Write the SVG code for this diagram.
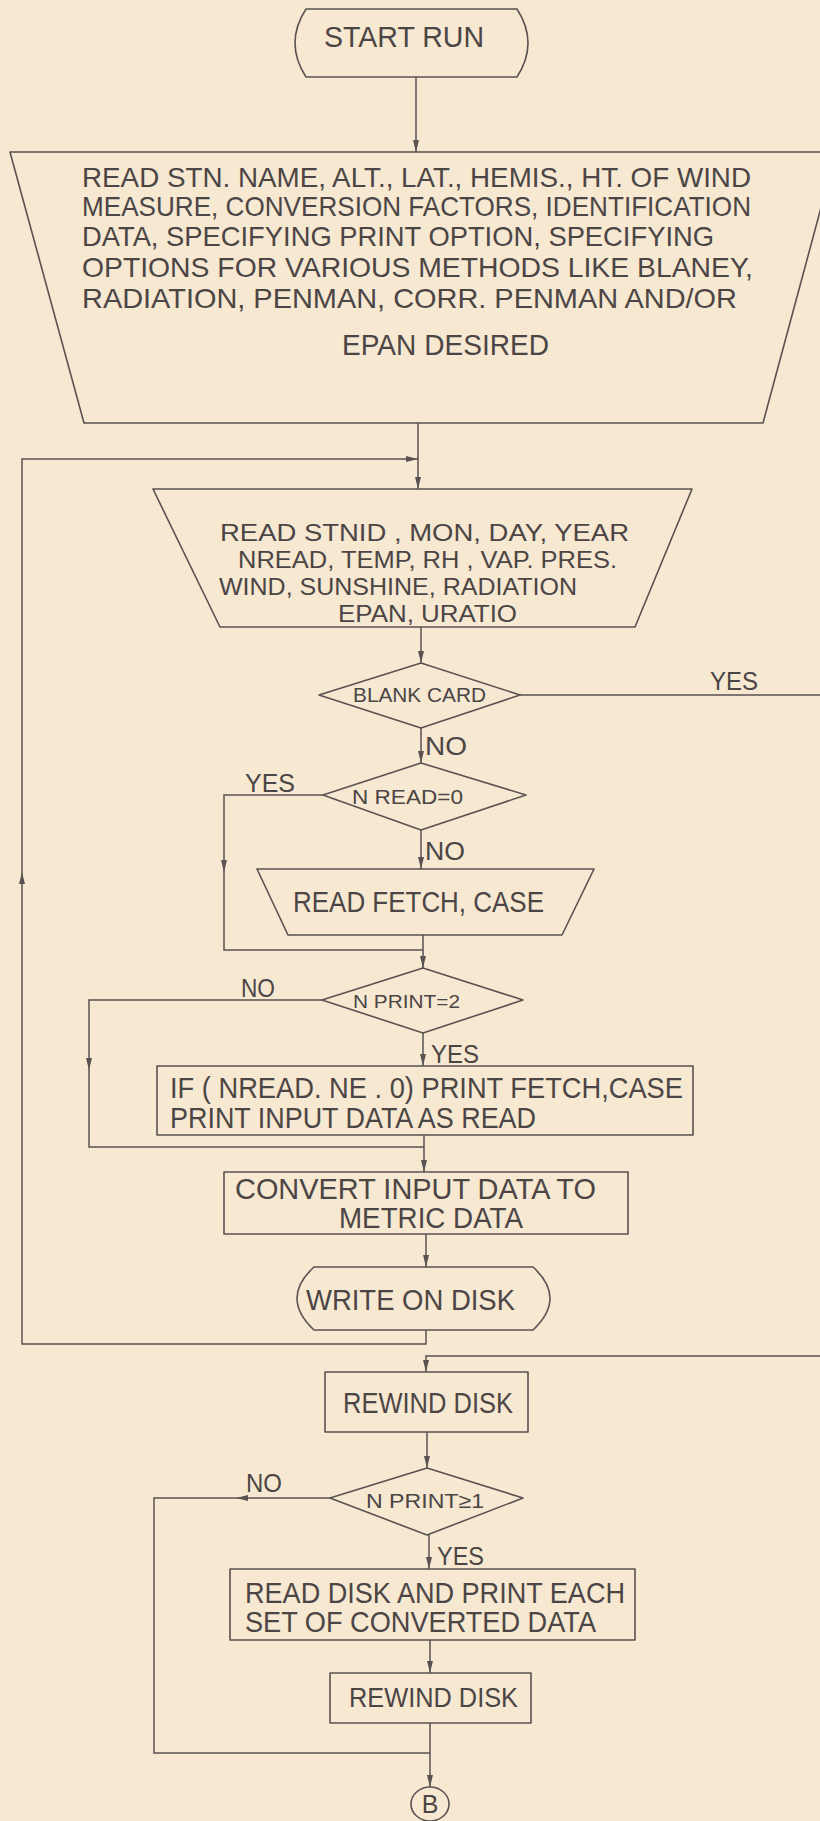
<svg xmlns="http://www.w3.org/2000/svg" width="820" height="1821" viewBox="0 0 820 1821">
<style>
.bg{fill:#f6e8d1}
.s{fill:none;stroke:#5a5252;stroke-width:1.6;stroke-linejoin:round}
.c{fill:none;stroke:#5a5252;stroke-width:1.5}
text{font-family:"Liberation Sans",Arial,sans-serif;fill:#4c4545}
.t{font-size:29px}
.k{font-size:28px}
.m{font-size:24px}
.l{font-size:26px}
.d{font-size:21px}
</style>
<defs>
<marker id="arr" viewBox="0 0 12 6" refX="12" refY="3" markerWidth="12" markerHeight="6" markerUnits="userSpaceOnUse" orient="auto">
<path d="M0,0 L12,3 L0,6 z" fill="#5a5252"/>
</marker>
</defs>
<rect class="bg" x="0" y="0" width="820" height="1821"/>

<g id="connectors">
<path class="c" d="M416,77 V152" marker-end="url(#arr)"/>
<path class="c" d="M418,423 V489" marker-end="url(#arr)"/>
<path class="c" d="M426,1330 V1344 H22 V872" marker-end="url(#arr)"/>
<path class="c" d="M22,872 V459 H418" marker-end="url(#arr)"/>
<path class="c" d="M421,627 V663" marker-end="url(#arr)"/>
<path class="c" d="M520,695 H820"/>
<path class="c" d="M421,728 V763" marker-end="url(#arr)"/>
<path class="c" d="M323,795 H224 V872" marker-end="url(#arr)"/>
<path class="c" d="M224,872 V950 H423"/>
<path class="c" d="M421,830 V869" marker-end="url(#arr)"/>
<path class="c" d="M423,935 V968" marker-end="url(#arr)"/>
<path class="c" d="M322,1000 H89 V1070" marker-end="url(#arr)"/>
<path class="c" d="M89,1070 V1147 H424"/>
<path class="c" d="M423,1033 V1066" marker-end="url(#arr)"/>
<path class="c" d="M424,1135 V1172" marker-end="url(#arr)"/>
<path class="c" d="M426,1234 V1267" marker-end="url(#arr)"/>
<path class="c" d="M820,1356 H426 V1372" marker-end="url(#arr)"/>
<path class="c" d="M427,1432 V1468" marker-end="url(#arr)"/>
<path class="c" d="M330,1498 H236" marker-end="url(#arr)"/>
<path class="c" d="M236,1498 H154 V1753 H430"/>
<path class="c" d="M429,1535 V1569" marker-end="url(#arr)"/>
<path class="c" d="M430,1640 V1673" marker-end="url(#arr)"/>
<path class="c" d="M430,1723 V1787" marker-end="url(#arr)"/>
<text class="l" x="710" y="690" textLength="48" lengthAdjust="spacingAndGlyphs">YES</text>
<text class="l" x="425" y="755" textLength="42" lengthAdjust="spacingAndGlyphs">NO</text>
<text class="l" x="245" y="792" textLength="50" lengthAdjust="spacingAndGlyphs">YES</text>
<text class="l" x="425" y="860" textLength="40" lengthAdjust="spacingAndGlyphs">NO</text>
<text class="l" x="241" y="997" textLength="34" lengthAdjust="spacingAndGlyphs">NO</text>
<text class="l" x="431" y="1063" textLength="48" lengthAdjust="spacingAndGlyphs">YES</text>
<text class="l" x="246" y="1492" textLength="36" lengthAdjust="spacingAndGlyphs">NO</text>
<text class="l" x="437" y="1565" textLength="47" lengthAdjust="spacingAndGlyphs">YES</text>
</g>

<g id="start">
<path class="s" d="M306,9 H517 Q539,43 517,77 H306 Q284,43 306,9 Z"/>
<text class="t" x="324" y="47" textLength="160" lengthAdjust="spacingAndGlyphs">START RUN</text>
</g>

<g id="read-station">
<polygon class="s" points="10,152 836,152 763,423 84,423"/>
<text class="k" x="82" y="187" textLength="669" lengthAdjust="spacingAndGlyphs">READ STN. NAME, ALT., LAT., HEMIS., HT. OF WIND</text>
<text class="k" x="82" y="216" textLength="669" lengthAdjust="spacingAndGlyphs">MEASURE, CONVERSION FACTORS, IDENTIFICATION</text>
<text class="k" x="82" y="246" textLength="632" lengthAdjust="spacingAndGlyphs">DATA, SPECIFYING PRINT OPTION, SPECIFYING</text>
<text class="k" x="82" y="277" textLength="671" lengthAdjust="spacingAndGlyphs">OPTIONS FOR VARIOUS METHODS LIKE BLANEY,</text>
<text class="k" x="82" y="308" textLength="655" lengthAdjust="spacingAndGlyphs">RADIATION, PENMAN, CORR. PENMAN AND/OR</text>
<text class="t" x="342" y="355" textLength="207" lengthAdjust="spacingAndGlyphs">EPAN DESIRED</text>
</g>

<g id="read-data">
<polygon class="s" points="153,489 692,489 635,627 220,627"/>
<text class="m" x="220" y="541" textLength="409" lengthAdjust="spacingAndGlyphs">READ STNID , MON, DAY, YEAR</text>
<text class="m" x="238" y="568" textLength="379" lengthAdjust="spacingAndGlyphs">NREAD, TEMP, RH , VAP. PRES.</text>
<text class="m" x="219" y="595" textLength="358" lengthAdjust="spacingAndGlyphs">WIND, SUNSHINE, RADIATION</text>
<text class="m" x="338" y="622" textLength="179" lengthAdjust="spacingAndGlyphs">EPAN, URATIO</text>
</g>

<g id="blank-card">
<polygon class="s" points="319,695 421,663 520,695 421,728"/>
<text class="d" x="353" y="702" textLength="133" lengthAdjust="spacingAndGlyphs">BLANK CARD</text>
</g>

<g id="nread">
<polygon class="s" points="323,795 421,763 526,795 421,830"/>
<text class="d" x="352" y="804" textLength="111" lengthAdjust="spacingAndGlyphs">N READ=0</text>
</g>

<g id="read-fetch">
<polygon class="s" points="257,869 594,869 562,935 288,935"/>
<text class="t" x="293" y="912" textLength="251" lengthAdjust="spacingAndGlyphs">READ FETCH, CASE</text>
</g>

<g id="nprint2">
<polygon class="s" points="322,1000 423,968 523,1000 423,1033"/>
<text x="353" y="1008" font-size="19" textLength="107" lengthAdjust="spacingAndGlyphs">N PRINT=2</text>
</g>

<g id="print-input">
<rect class="s" x="157" y="1066" width="536" height="69"/>
<text class="t" x="170" y="1098" textLength="513" lengthAdjust="spacingAndGlyphs">IF ( NREAD. NE . 0) PRINT FETCH,CASE</text>
<text class="t" x="170" y="1128" textLength="366" lengthAdjust="spacingAndGlyphs">PRINT INPUT DATA AS READ</text>
</g>

<g id="convert">
<rect class="s" x="224" y="1172" width="404" height="62"/>
<text class="t" x="235" y="1199" textLength="361" lengthAdjust="spacingAndGlyphs">CONVERT INPUT DATA TO</text>
<text class="t" x="339" y="1228" textLength="184" lengthAdjust="spacingAndGlyphs">METRIC DATA</text>
</g>

<g id="write-disk">
<path class="s" d="M314,1267 H533 Q567,1298 533,1330 H314 Q280,1298 314,1267 Z"/>
<text class="t" x="306" y="1310" textLength="209" lengthAdjust="spacingAndGlyphs">WRITE ON DISK</text>
</g>

<g id="rewind-1">
<rect class="s" x="325" y="1372" width="203" height="60"/>
<text class="t" x="343" y="1413" textLength="170" lengthAdjust="spacingAndGlyphs">REWIND DISK</text>
</g>

<g id="nprint1">
<polygon class="s" points="330,1498 427,1468 523,1498 427,1535"/>
<text class="d" x="366" y="1508" textLength="118" lengthAdjust="spacingAndGlyphs">N PRINT≥1</text>
</g>

<g id="read-disk">
<rect class="s" x="230" y="1569" width="405" height="71"/>
<text class="t" x="245" y="1603" textLength="380" lengthAdjust="spacingAndGlyphs">READ DISK AND PRINT EACH</text>
<text class="t" x="245" y="1632" textLength="351" lengthAdjust="spacingAndGlyphs">SET OF CONVERTED DATA</text>
</g>

<g id="rewind-2">
<rect class="s" x="330" y="1673" width="201" height="50"/>
<text class="k" x="349" y="1707" textLength="169" lengthAdjust="spacingAndGlyphs">REWIND DISK</text>
</g>

<g id="connector-b">
<ellipse class="s" cx="430" cy="1804" rx="19" ry="17"/>
<text x="430" y="1813" font-size="25" text-anchor="middle">B</text>
</g>
</svg>
